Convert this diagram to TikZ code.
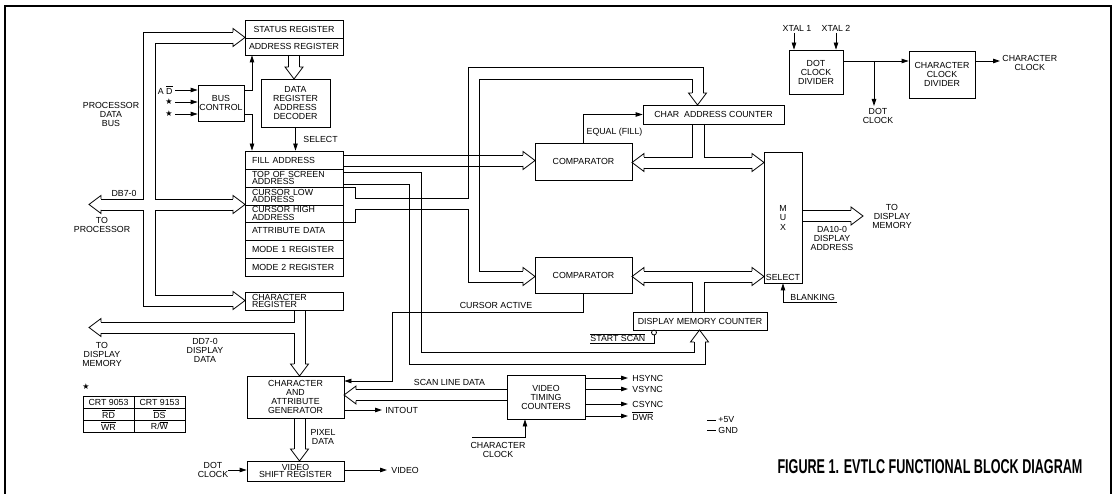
\documentclass[tikz,border=0pt]{standalone}
\usepackage{fontspec}
\setmainfont{Liberation Sans}
\newfontfamily\djv{DejaVu Sans}
\usepackage{graphicx}
\usetikzlibrary{arrows.meta}
\newcommand\lf{\fontsize{8.8}{9}\selectfont}
\newcommand\lfr{\fontsize{8.8}{7.6}\selectfont}
\newcommand\ovl[1]{$\overline{\hbox{#1}}$}
\newcommand\strsym{{\djv\fontsize{8}{8}\selectfont ★}}
% bus arrow heads: tip x, tip y
\newcommand\bhR[2]{\draw (#1-12,#2-5.5) -- (#1-12,#2-9) -- (#1,#2) -- (#1-12,#2+9) -- (#1-12,#2+5.5);}
\newcommand\bhL[2]{\draw (#1+12,#2-5.5) -- (#1+12,#2-9) -- (#1,#2) -- (#1+12,#2+9) -- (#1+12,#2+5.5);}
\newcommand\bhD[2]{\draw (#1-5.5,#2-12) -- (#1-9,#2-12) -- (#1,#2) -- (#1+9,#2-12) -- (#1+5.5,#2-12);}
\newcommand\bhU[2]{\draw (#1-5.5,#2+12) -- (#1-9,#2+12) -- (#1,#2) -- (#1+9,#2+12) -- (#1+5.5,#2+12);}
\begin{document}
\begin{tikzpicture}[x=1pt,y=-1pt,line width=0.8pt,
  blk/.style={draw,inner sep=0pt,align=center,font=\lf},
  reg/.style={draw,minimum width=98pt,text width=84pt,inner xsep=7pt,inner ysep=0pt,align=left,font=\lfr},
  txt/.style={inner sep=0pt,align=center,font=\lf},
  arr/.style={-{Triangle[length=7pt,width=4.5pt]}},
  thin/.style={line width=0.5pt}]
\useasboundingbox (0,0) rectangle (1116,494);
\draw[line width=2pt] (5,494) -- (5,6) -- (1111,6) -- (1111,494);

% ---------- blocks ----------
\node[blk,minimum width=98pt,minimum height=18pt] (status) at (294,29) {STATUS REGISTER};
\node[blk,minimum width=98pt,minimum height=17pt] (addr) at (294,46.5) {ADDRESS REGISTER};
\node[blk,minimum width=69pt,minimum height=48pt] (dec) at (295.5,103) {DATA\\REGISTER\\ADDRESS\\DECODER};
\node[blk,minimum width=46pt,minimum height=36pt] (busctl) at (221,103) {BUS\\CONTROL};
\node[reg,minimum height=18pt] (fill) at (294,160) {FILL ADDRESS};
\node[reg,minimum height=18pt] (tos) at (294,178) {TOP OF SCREEN\\ADDRESS};
\node[reg,minimum height=18pt] (curlo) at (294,196) {CURSOR LOW\\ADDRESS};
\node[reg,minimum height=17pt] (curhi) at (294,213.5) {CURSOR HIGH\\ADDRESS};
\node[reg,minimum height=18pt] (attr) at (294,231) {ATTRIBUTE DATA};
\node[reg,minimum height=18pt] (mode1) at (294,249) {MODE 1 REGISTER};
\node[reg,minimum height=18pt] (mode2) at (294,267) {MODE 2 REGISTER};
\node[reg,minimum height=18pt] (chreg) at (294,301) {CHARACTER\\REGISTER};
\node[blk,minimum width=97pt,minimum height=42pt] (gen) at (295.5,397) {CHARACTER\\AND\\ATTRIBUTE\\GENERATOR};
\node[blk,minimum width=97pt,minimum height=20pt,font=\lfr] (vsr) at (295.5,471) {VIDEO\\SHIFT REGISTER};
\node[blk,minimum width=97pt,minimum height=37pt] (comp1) at (583.5,161.5) {COMPARATOR};
\node[blk,minimum width=97pt,minimum height=36pt] (comp2) at (583.5,275) {COMPARATOR};
\node[blk,minimum width=141pt,minimum height=19pt] (cac) at (713.5,114.5) {CHAR\ \ ADDRESS COUNTER};
\node[blk,minimum width=38pt,minimum height=131pt,font=\fontsize{8.8}{9.5}\selectfont] (mux) at (783,217.5) {M\\U\\X};
\node[txt] (sel) at (783,277) {SELECT};
\node[blk,minimum width=134pt,minimum height=18pt] (dmc) at (700,321) {DISPLAY MEMORY COUNTER};
\node[blk,minimum width=78pt,minimum height=44pt] (vtc) at (546,397) {VIDEO\\TIMING\\COUNTERS};
\node[blk,minimum width=54pt,minimum height=44pt] (dcd) at (816,72) {DOT\\CLOCK\\DIVIDER};
\node[blk,minimum width=66pt,minimum height=47pt] (ccd) at (942,74.5) {CHARACTER\\CLOCK\\DIVIDER};

% ---------- bus control inputs ----------
\node[txt,anchor=east] (ad) at (173,90) {A\ \ovl{D}};
\node[txt,anchor=east] (s1) at (173,102) {\strsym};
\node[txt,anchor=east] (s2) at (173,114) {\strsym};
\draw[arr] ([xshift=2pt]ad.east) -- (busctl.west |- ad.east);
\draw[arr] ([xshift=2pt]s1.east) -- (busctl.west |- s1.east);
\draw[arr] ([xshift=2pt]s2.east) -- (busctl.west |- s2.east);
\draw[arr] (busctl.east |- 0,90) -| (addr.south -| 252,0);
\draw[arr] (busctl.east |- 0,114) -| (fill.north -| 252,0);
\draw[arr] (dec.south) -- (dec.south |- fill.north);
\node[txt,anchor=west] (selectl) at (303,139) {SELECT};

% ---------- processor data bus ----------
\node[txt] (pdb) at (111,114) {PROCESSOR\\DATA\\BUS};
\node[txt] (db) at (124,193) {DB7-0};
\node[txt] (toproc) at (102,224.5) {TO\\PROCESSOR};
\draw (233,32) -- (143,32) -- (143,199) -- (101,199);
\draw (101,210) -- (143,210) -- (143,306) -- (233,306);
\draw (233,43) -- (155,43) -- (155,199) -- (233,199);
\draw (233,210) -- (155,210) -- (155,295) -- (233,295);
\bhR{245}{37.5}
\bhR{245}{204.5}
\bhL{89}{204.5}
\bhR{245}{300.5}

% address register -> decoder
\draw (288.5,55) -- (288.5,67);
\draw (299.5,55) -- (299.5,67);
\bhD{294}{79}

% fill address -> comparator 1
\draw (343,155) -- (523,155);
\draw (343,166) -- (523,166);
\bhR{535}{160.5}

% cursor address bus
\draw (343,187) -- (355,187) -- (355,198) -- (468,198) -- (468,67) -- (703,67) -- (703,93);
\draw (343,222) -- (355,222) -- (355,209) -- (468,209) -- (468,282) -- (523,282);
\draw (692,93) -- (692,79) -- (479,79) -- (479,271) -- (523,271);
\bhD{697.5}{105}
\bhR{535}{276.5}

% top of screen address bus
\draw (343,172) -- (421,172) -- (421,352) -- (694,352) -- (694,342);
\draw (343,184) -- (409,184) -- (409,364) -- (705,364) -- (705,342);
\bhU{699.5}{330}

% char address counter <-> comparator 1 / mux
\draw (644,157) -- (692,157) -- (692,124);
\draw (704,124) -- (704,157) -- (752,157);
\draw (644,168) -- (752,168);
\bhL{632}{162.5}
\bhR{764}{162.5}
\draw[arr] (comp1.north) |- (cac.west);
\node[txt] (eq) at (614.5,132) {EQUAL (FILL)};

% display memory counter <-> comparator 2 / mux
\draw (644,271) -- (752,271);
\draw (644,282) -- (692,282) -- (692,312);
\draw (704,312) -- (704,282) -- (752,282);
\bhL{632}{276.5}
\bhR{764}{276.5}

% mux output
\draw (802,210.5) -- (851,210.5);
\draw (802,221.5) -- (851,221.5);
\bhR{863}{216}
\node[txt] (todm2) at (892,216) {TO\\DISPLAY\\MEMORY};
\node[txt] (da) at (832,238) {DA10-0\\DISPLAY\\ADDRESS};

% blanking
\node[txt,anchor=south west] (blank) at (790,300.5) {BLANKING};
\draw[arr] (837,302) -| (mux.south);

% start scan
\draw (654,332.5) circle[radius=2.5pt];
\draw (654,335) -- (654,343) -- (590,343);
\node[txt,anchor=west] (ss) at (590,337.5) {\ovl{START SCAN}};

% cursor active
\draw[arr] (comp2.south) |- (392,312) |- (gen.east |- 0,381);
\node[txt] (curact) at (496,305) {CURSOR ACTIVE};

% character register -> generator, display data bus
\draw (294,310) -- (294,322) -- (101,322);
\draw (101,333) -- (294,333) -- (294,364);
\draw (305,310) -- (305,364);
\bhD{299.5}{376}
\bhL{89}{327.5}
\node[txt] (todm1) at (102,354.5) {TO\\DISPLAY\\MEMORY};
\node[txt] (dd) at (205,350) {DD7-0\\DISPLAY\\DATA};

% generator -> video shift register
\draw (294,418) -- (294,449);
\draw (305,418) -- (305,449);
\bhD{299.5}{461}
\node[txt] (pix) at (323,436.5) {PIXEL\\DATA};

% scan line data
\draw (507,389.5) -- (356,389.5);
\draw (507,400.5) -- (356,400.5);
\bhL{344}{395}
\node[txt] (sld) at (449.5,382) {SCAN LINE DATA};

% intout, video, dot clock
\draw[arr] (gen.east |- 0,410) -- (382,410);
\node[txt,anchor=west] (intout) at (385,410) {INTOUT};
\draw[arr] (vsr.east |- 0,470) -- (387,470);
\node[txt,anchor=west] (video) at (391,470) {VIDEO};
\node[txt] (dclk2) at (213,470) {DOT\\CLOCK};
\draw[arr] (228,470) -- (vsr.west |- 0,470);

% video timing outputs
\foreach \yy/\lab in {378/HSYNC,389/VSYNC,404/CSYNC,416/{\ovl{DWR}}} {
  \draw[arr] (vtc.east |- 0,\yy) -- (628,\yy);
  \node[txt,anchor=west] at (632,\yy) {\lab};
}
\node[txt] (cclk2) at (498,450) {CHARACTER\\CLOCK};
\draw[arr] (472,437) -| (vtc.south -| 525,0);

% power
\draw[thin] (707,420) -- (716,420);
\node[txt,anchor=west] (p5) at (718,420) {+5V};
\draw[thin] (707,430) -- (716,430);
\node[txt,anchor=west] (gnd) at (718,430) {GND};

% clocks
\node[txt] (x1) at (797,28) {XTAL 1};
\node[txt] (x2) at (836,28) {XTAL 2};
\draw[arr] (794,33) -- (dcd.north -| 794,0);
\draw[arr] (836,33) -- (dcd.north -| 836,0);
\draw[arr] (dcd.east |- 0,61) -- (ccd.west |- 0,61);
\coordinate (br) at (874,61);
\draw[arr] (br) -- (874,106);
\node[txt] (dotclk) at (878,116) {DOT\\CLOCK};
\draw[arr] (ccd.east |- 0,61) -- (1000,61);
\node[txt,anchor=west] (cclk) at (1002,63) {CHARACTER\\CLOCK};

% table
\node[txt] (star) at (86,387) {\strsym};
\draw[thin] (83,396) rectangle (185,432);
\draw[thin] (134,396) -- (134,432);
\draw[thin] (83,408) -- (185,408) (83,420) -- (185,420);
\node[txt] at (108.5,402) {CRT 9053};
\node[txt] at (159.5,402) {CRT 9153};
\node[txt] at (108.5,414) {\ovl{RD}};
\node[txt] at (159.5,414) {\ovl{DS}};
\node[txt] at (108.5,426) {\ovl{WR}};
\node[txt] at (159.5,426) {R/\ovl{W}};

% title
\node[inner sep=0pt,font=\bfseries\fontsize{20}{20}\selectfont] (title) at (930,467)
  {\scalebox{0.63}[1]{FIGURE 1. EVTLC FUNCTIONAL BLOCK DIAGRAM}};
\end{tikzpicture}
\end{document}
